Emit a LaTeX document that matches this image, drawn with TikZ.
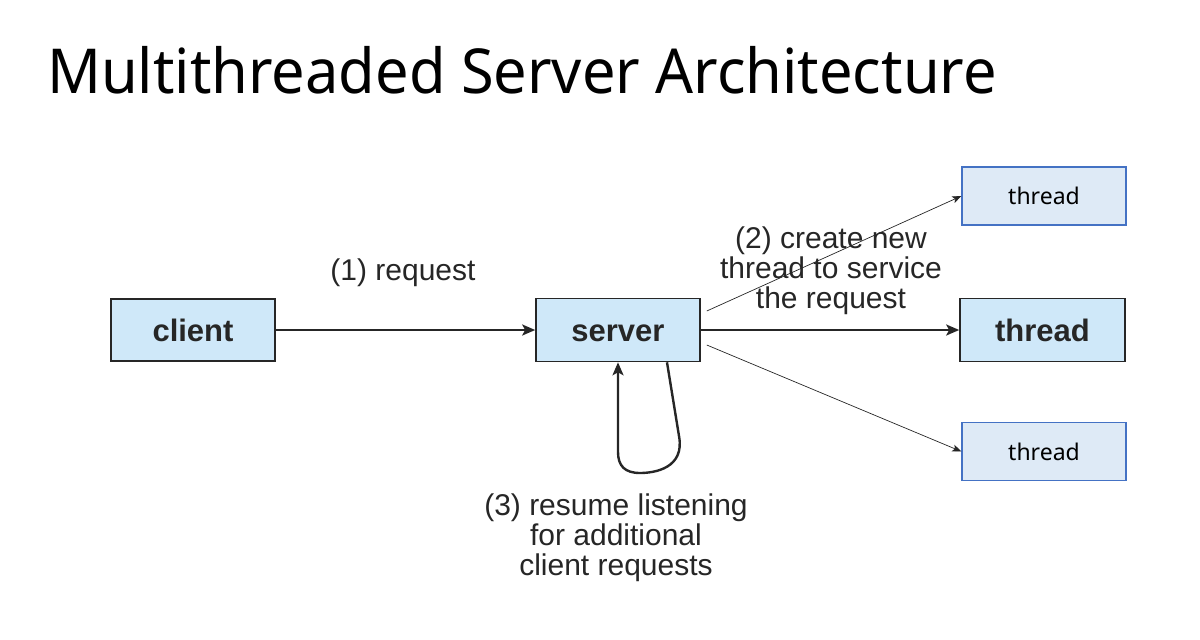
\documentclass[tikz,border=0pt]{standalone}
\usepackage{fontspec}
\setmainfont{Liberation Sans}
\newfontfamily\titlefont{Noto Sans}
\usetikzlibrary{arrows.meta,calc}
\definecolor{bigfill}{HTML}{CFE8F9}
\definecolor{smallfill}{HTML}{DEEAF6}
\definecolor{smallline}{HTML}{4472C4}
\definecolor{ink}{HTML}{262626}
\tikzset{
  bigbox/.style={draw=ink, line width=1.6pt, fill=bigfill, inner sep=0pt,
    text height=22pt, text depth=0pt,
    font=\fontsize{31}{31}\selectfont\bfseries, text=ink},
  smallbox/.style={draw=smallline, line width=1.2pt, fill=smallfill, inner sep=0pt,
    minimum width=164pt, minimum height=58pt,
    font=\titlefont\fontsize{23}{23}\selectfont, text=black},
  lbl/.style={inner sep=0pt, align=center, text=ink,
    font=\fontsize{30}{30}\selectfont},
  thick arrow/.style={draw=ink, line width=2.4pt, -{Stealth[length=13pt,width=11pt,inset=3pt]}},
  thin arrow/.style={draw=ink, line width=0.7pt, -{Stealth[length=9pt,width=7pt,inset=2pt]}},
}
\begin{document}
\begin{tikzpicture}[x=1pt,y=-1pt]
\useasboundingbox (0,0) rectangle (1200,640);
\node[anchor=base west, inner sep=0pt, font=\titlefont\fontsize{62}{62}\selectfont] (title) at (47,93) {\scalebox{0.96}[1]{Multithreaded Server Architecture}};

\node[bigbox, minimum width=164pt, minimum height=62pt] (client) at (193,330) {client};
\node[bigbox, minimum width=164pt, minimum height=63pt] (server) at (618,330) {server};
\node[bigbox, minimum width=165pt, minimum height=63pt] (thread2) at (1042.5,330) {thread};
\node[smallbox] (thread1) at (1044,196) {thread};
\node[smallbox] (thread3) at (1044,451.5) {thread};

\draw[thick arrow] (client.east) -- (server.west);
\draw[thick arrow] (server.east) -- (thread2.west);

\coordinate (s1) at ($(server.east)+(6,-19)$);
\coordinate (s3) at ($(server.east)+(6,15)$);
\draw[thin arrow] (s1) -- (thread1.west);
\draw[thin arrow] (s3) -- (thread3.west);

\coordinate (loopstart) at ($(server.south)+(49,0)$);
\draw[thick arrow, line join=round] (loopstart) -- (679,436)
  .. controls (685,468) and (655,473) .. (640,473)
  .. controls (625,473) and (618,466) .. (618,452) -- (server.south);

\node[lbl] (l1) at (403,273) {(1) request};
\node[lbl] (l2) at (831,271) {(2) create new\\thread to service\\the request};
\node[lbl] (l3) at (616,538) {(3) resume listening\\for additional\\client requests};
\end{tikzpicture}
\end{document}
